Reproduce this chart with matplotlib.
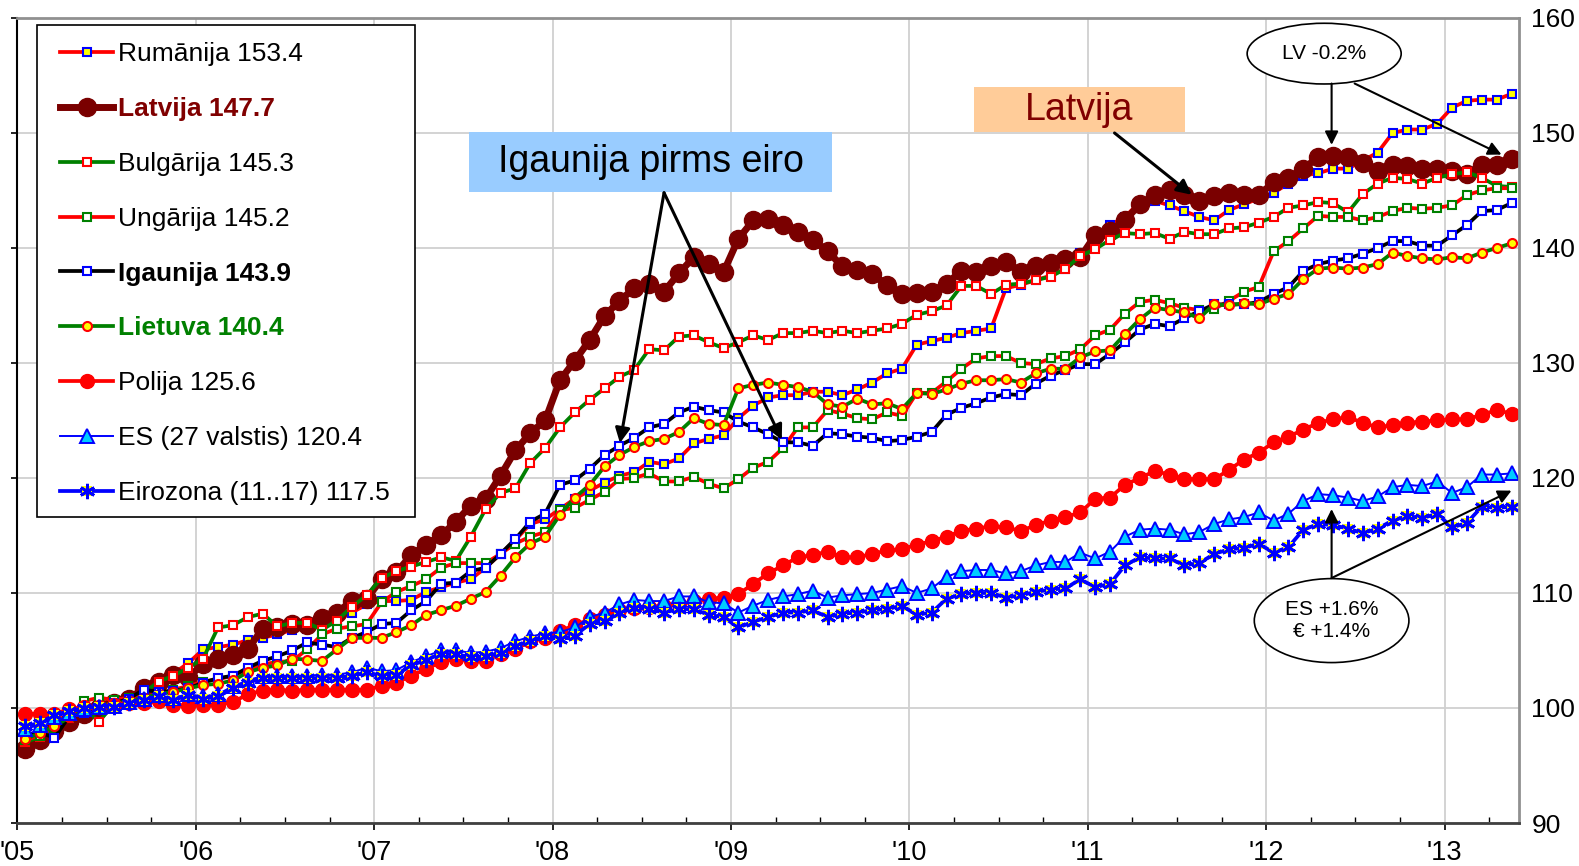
import matplotlib
matplotlib.use('Agg')
import matplotlib.pyplot as plt
import numpy as np
from matplotlib.patches import Ellipse, Rectangle

plt.rcParams['font.family'] = ['Liberation Sans', 'DejaVu Sans']

# monthly index values, Jan 2005 .. May 2013
year_labels = ["'05", "'06", "'07", "'08", "'09", "'10", "'11", "'12", "'13"]

ro = [97.3, 97.7, 98.3, 99.3, 99.8, 100.2, 100.6, 100.9, 101.7, 102.3, 103.0, 103.9,
      105.1, 105.3, 105.5, 105.9, 106.1, 106.4, 106.8, 106.9, 107.2, 107.6, 108.3, 109.0,
      109.3, 109.3, 109.4, 110.1, 110.5, 110.9, 111.2, 112.2, 113.4, 114.6, 116.0, 116.4,
      117.3, 118.2, 118.9, 119.6, 120.2, 120.5, 121.4, 121.2, 121.7, 123.0, 123.4, 123.7,
      125.2, 126.3, 127.0, 127.2, 127.2, 127.5, 127.5, 127.2, 127.7, 128.3, 129.1, 129.5,
      131.6, 131.9, 132.2, 132.6, 132.8, 133.0, 136.5, 136.8, 137.2, 137.6, 138.2, 139.6,
      140.2, 142.0, 142.7, 144.0, 144.1, 143.7, 143.2, 142.7, 142.4, 143.3, 143.8, 144.3,
      144.8, 145.6, 146.3, 146.5, 146.9, 146.9, 147.6, 148.3, 150.0, 150.3, 150.3, 150.8,
      152.2, 152.8, 152.9, 152.9, 153.4]
lv = [96.4, 97.2, 98.0, 98.8, 99.5, 100.0, 100.4, 100.8, 101.7, 102.3, 102.9, 102.7,
      103.8, 104.3, 104.6, 105.1, 106.9, 107.0, 107.3, 107.2, 107.8, 108.3, 109.3, 109.5,
      111.2, 111.8, 113.3, 114.2, 115.0, 116.2, 117.6, 118.2, 120.2, 122.4, 123.9, 125.0,
      128.5, 130.2, 132.0, 134.1, 135.4, 136.5, 136.9, 136.2, 137.8, 139.2, 138.6, 137.9,
      140.8, 142.4, 142.5, 142.0, 141.4, 140.7, 139.7, 138.4, 138.1, 137.7, 136.8, 136.0,
      136.1, 136.2, 136.9, 138.0, 137.9, 138.4, 138.8, 137.9, 138.4, 138.7, 139.0, 139.2,
      141.1, 141.5, 142.4, 143.8, 144.6, 145.0, 144.6, 144.1, 144.5, 144.8, 144.6, 144.6,
      145.7, 146.1, 146.9, 147.9, 148.0, 147.9, 147.4, 146.7, 147.2, 147.1, 146.9, 146.9,
      146.7, 146.4, 147.2, 147.2, 147.7]
bg = [97.0, 97.5, 98.3, 99.1, 100.0, 98.8, 100.4, 100.8, 101.3, 102.3, 102.8, 103.5,
      104.3, 107.0, 107.2, 107.9, 108.2, 107.1, 107.4, 107.4, 106.8, 107.6, 108.8, 109.8,
      111.3, 111.9, 112.3, 112.7, 113.1, 112.8, 114.9, 117.3, 118.7, 119.1, 121.3, 122.6,
      124.4, 125.7, 126.8, 127.8, 128.8, 129.4, 131.2, 131.1, 132.3, 132.4, 131.8, 131.3,
      131.8, 132.4, 132.0, 132.6, 132.6, 132.8, 132.6, 132.8, 132.6, 132.8, 133.0, 133.4,
      134.2, 134.5, 135.0, 136.7, 136.7, 136.0, 136.8, 136.9, 137.2, 137.5, 138.2, 139.3,
      139.9, 140.7, 141.3, 141.2, 141.3, 140.8, 141.4, 141.2, 141.2, 141.7, 141.8, 142.2,
      142.7, 143.5, 143.7, 144.0, 143.9, 143.1, 144.7, 145.6, 146.1, 146.0, 145.6, 146.1,
      146.4, 146.6, 146.1, 145.4, 145.3]
hu = [97.2, 97.6, 98.3, 99.2, 100.6, 100.9, 100.7, 100.9, 101.0, 101.2, 101.6, 101.9,
      102.3, 102.5, 102.8, 103.3, 103.8, 104.0, 104.1, 105.1, 106.4, 106.9, 107.1, 107.3,
      109.2, 110.1, 110.6, 111.2, 112.2, 112.6, 112.6, 112.6, 113.4, 114.3, 114.9, 115.3,
      117.2, 117.4, 118.1, 118.8, 119.9, 120.0, 120.4, 119.7, 119.7, 120.1, 119.5, 119.1,
      119.9, 120.9, 121.4, 122.6, 124.4, 124.4, 125.9, 125.6, 125.2, 125.1, 125.7, 125.4,
      127.4, 127.4, 128.4, 129.5, 130.4, 130.6, 130.6, 130.0, 129.9, 130.4, 130.6, 131.2,
      132.4, 132.9, 134.3, 135.3, 135.5, 135.2, 134.8, 134.6, 134.7, 135.4, 136.2, 136.6,
      139.7, 140.6, 141.7, 142.8, 142.7, 142.7, 142.4, 142.7, 143.2, 143.5, 143.4, 143.5,
      143.7, 144.6, 145.0, 145.2, 145.2]
ee = [97.6, 97.9, 97.4, 99.3, 99.6, 100.0, 100.4, 100.8, 101.6, 101.4, 101.5, 101.7,
      102.2, 102.6, 102.8, 103.5, 104.1, 104.5, 105.0, 105.7, 105.5, 105.3, 106.1, 106.6,
      107.3, 107.4, 108.5, 109.3, 110.8, 110.9, 111.9, 112.2, 113.4, 114.7, 116.2, 116.9,
      119.4, 119.8, 120.8, 122.0, 122.8, 123.5, 124.4, 124.7, 125.7, 126.2, 125.9, 125.7,
      124.9, 124.4, 123.8, 123.1, 123.1, 122.8, 123.9, 123.8, 123.6, 123.5, 123.2, 123.3,
      123.6, 124.0, 125.5, 126.1, 126.5, 127.0, 127.3, 127.2, 128.2, 128.9, 129.4, 129.9,
      129.9, 130.8, 131.8, 132.9, 133.4, 133.2, 133.9, 134.5, 135.1, 135.1, 135.1, 135.3,
      136.0, 136.6, 138.0, 138.6, 138.9, 139.1, 139.5, 140.0, 140.6, 140.6, 140.2, 140.2,
      141.1, 142.0, 143.2, 143.3, 143.9]
lt = [97.3, 97.8, 98.4, 99.2, 99.8, 100.2, 100.4, 100.6, 100.9, 101.2, 101.4, 101.7,
      102.0, 102.1, 102.4, 103.1, 103.5, 103.7, 104.3, 104.2, 104.1, 105.1, 106.1, 106.1,
      106.1, 106.6, 107.2, 108.1, 108.5, 108.9, 109.5, 110.1, 111.5, 113.1, 114.3, 114.9,
      116.8, 118.3, 119.4, 121.0, 122.0, 122.7, 123.2, 123.4, 124.0, 125.2, 124.7, 124.6,
      127.8, 128.1, 128.3, 128.1, 127.9, 127.5, 126.4, 126.2, 126.9, 126.4, 126.5, 126.0,
      127.4, 127.3, 127.7, 128.2, 128.5, 128.5, 128.6, 128.3, 129.1, 129.5, 129.5, 130.5,
      131.0, 131.1, 132.5, 133.8, 134.8, 134.6, 134.4, 133.9, 135.1, 135.0, 135.2, 135.1,
      135.6, 136.0, 137.3, 138.2, 138.3, 138.2, 138.3, 138.6, 139.6, 139.3, 139.1, 139.0,
      139.2, 139.1, 139.6, 140.0, 140.4]
pl = [99.5, 99.5, 99.5, 99.9, 100.1, 100.1, 100.3, 100.4, 100.4, 100.6, 100.3, 100.2,
      100.3, 100.3, 100.5, 101.2, 101.5, 101.6, 101.5, 101.6, 101.6, 101.6, 101.6, 101.6,
      101.9, 102.2, 102.8, 103.4, 104.0, 104.3, 104.1, 104.1, 104.7, 105.1, 105.8, 106.1,
      106.7, 107.2, 107.7, 108.1, 108.5, 108.7, 108.8, 108.9, 109.0, 109.3, 109.5, 109.6,
      109.9, 110.8, 111.7, 112.4, 113.1, 113.3, 113.6, 113.1, 113.1, 113.4, 113.7, 113.8,
      114.2, 114.5, 114.9, 115.4, 115.6, 115.8, 115.7, 115.4, 115.9, 116.3, 116.6, 117.0,
      118.2, 118.3, 119.4, 120.0, 120.6, 120.3, 119.9, 119.9, 119.9, 120.7, 121.6, 122.2,
      123.1, 123.6, 124.2, 124.8, 125.1, 125.3, 124.8, 124.4, 124.6, 124.8, 124.9, 125.0,
      125.1, 125.1, 125.5, 125.9, 125.6]
es = [98.2, 98.5, 99.2, 99.6, 99.9, 100.1, 100.2, 100.5, 100.8, 101.1, 100.9, 101.2,
      101.0, 101.2, 101.9, 102.4, 102.8, 102.8, 102.8, 102.8, 102.9, 102.9, 103.1, 103.5,
      103.2, 103.3, 104.0, 104.5, 105.0, 105.0, 104.8, 104.9, 105.2, 105.8, 106.2, 106.5,
      106.6, 107.0, 107.9, 108.3, 109.0, 109.4, 109.3, 109.3, 109.7, 109.7, 109.2, 109.1,
      108.3, 108.9, 109.4, 109.7, 109.9, 110.2, 109.6, 109.8, 109.9, 110.0, 110.3, 110.6,
      110.0, 110.4, 111.4, 111.9, 112.0, 112.0, 111.7, 111.9, 112.4, 112.7, 112.7, 113.5,
      113.0, 113.6, 114.9, 115.5, 115.6, 115.5, 115.1, 115.3, 116.0, 116.4, 116.6, 117.0,
      116.3, 116.9, 118.0, 118.6, 118.5, 118.3, 118.0, 118.4, 119.2, 119.4, 119.3, 119.7,
      118.7, 119.2, 120.3, 120.3, 120.4]
ez = [98.4, 98.7, 99.4, 99.7, 100.0, 100.1, 100.1, 100.4, 100.7, 101.0, 100.7, 101.1,
      100.8, 101.0, 101.7, 102.2, 102.6, 102.6, 102.6, 102.6, 102.6, 102.6, 102.8, 103.1,
      102.8, 102.9, 103.7, 104.2, 104.7, 104.7, 104.4, 104.5, 104.8, 105.4, 105.8, 106.3,
      106.0, 106.3, 107.3, 107.6, 108.3, 108.7, 108.6, 108.3, 108.6, 108.6, 108.1, 107.9,
      107.0, 107.5, 107.9, 108.3, 108.3, 108.5, 107.9, 108.2, 108.3, 108.5, 108.6, 108.9,
      108.1, 108.3, 109.5, 109.9, 110.0, 110.0, 109.6, 109.8, 110.1, 110.3, 110.4, 111.2,
      110.5, 110.8, 112.4, 113.1, 113.0, 113.0, 112.4, 112.6, 113.4, 113.8, 113.9, 114.3,
      113.5, 114.0, 115.5, 116.0, 115.9, 115.6, 115.2, 115.6, 116.3, 116.7, 116.5, 116.9,
      115.7, 116.1, 117.5, 117.4, 117.5]

months = np.arange(len(lv)) + 0.5

fig = plt.figure(figsize=(15.79, 8.66), dpi=100)
ax = fig.add_axes([0.01096, 0.04965, 0.951, 0.9296])

red = '#FF0000'
green = '#008000'
maroon = '#7A0000'
sq = dict(marker='s', ms=6, mew=1.5)
lw = 2.7

h_ro, = ax.plot(months, ro, color=red, lw=lw, mfc='yellow', mec='blue', **sq)
h_lv, = ax.plot(months, lv, color=maroon, lw=5, marker='o', ms=13, mfc=maroon, mec=maroon)
h_bg, = ax.plot(months, bg, color=green, lw=lw, mfc='white', mec=red, **sq)
h_hu, = ax.plot(months, hu, color=red, lw=lw, mfc='white', mec=green, **sq)
h_ee, = ax.plot(months, ee, color='black', lw=lw, mfc='white', mec='blue', **sq)
h_lt, = ax.plot(months, lt, color=green, lw=lw, marker='o', ms=6.5, mfc='yellow', mec=red, mew=1.5)
h_pl, = ax.plot(months, pl, color=red, lw=lw, marker='o', ms=10, mfc=red, mec=red)
h_es, = ax.plot(months, es, color='blue', lw=1.4, marker='^', ms=9.5, mfc='#00CCFF', mec='blue', mew=1.4)
h_ez1, = ax.plot(months, ez, color='blue', lw=lw, marker='s', ms=7.5, mfc='yellow', mec='yellow', mew=0)
h_ez2, = ax.plot(months, ez, ls='none', marker=(6, 2, 0), ms=11, mec='blue', mew=2)

ax.set_xlim(0, 101)
ax.set_ylim(90, 160)
ax.set_xticks(np.arange(0, 97, 12))
ax.set_xticklabels(year_labels, fontsize=19.5)
ax.set_xticks([m for m in range(3, 101, 3) if m % 12], minor=True)
ax.set_yticks(np.arange(90, 161, 10))
ax.tick_params(axis='x', which='major', direction='out', length=5, width=1.2, pad=7)
ax.tick_params(axis='x', which='minor', direction='in', length=4, width=1.0)
ax.tick_params(axis='y', left=True, right=False, labelleft=False, labelright=True,
               direction='out', length=4, width=1.2, pad=5, labelsize=19)

ax.grid(True, which='major', color='#D0D0D0', lw=1.3)
ax.set_axisbelow(True)
ax.spines['left'].set_color('black')
ax.spines['left'].set_linewidth(1.5)
ax.spines['bottom'].set_color('#404040')
ax.spines['bottom'].set_linewidth(2)
for s in ('top', 'right'):
    ax.spines[s].set_color('#909090')
    ax.spines[s].set_linewidth(2)

# legend with hand-drawn frame
ax.add_patch(Rectangle((0.01332, 0.3801), 0.2515, 0.611, transform=ax.transAxes,
                       facecolor='white', edgecolor='black', lw=1.2, zorder=6))
labels = ['Rumānija 153.4', 'Latvija 147.7', 'Bulgārija 145.3', 'Ungārija 145.2',
          'Igaunija 143.9', 'Lietuva 140.4', 'Polija 125.6', 'ES (27 valstis) 120.4',
          'Eirozona (11..17) 117.5']
handles = [h_ro, h_lv, h_bg, h_hu, h_ee, h_lt, h_pl, h_es, (h_ez1, h_ez2)]
leg = ax.legend(handles, labels, loc='upper left', bbox_to_anchor=(0.0287, 0.970),
                frameon=False, fontsize=19, handlelength=1.98, handletextpad=0.19,
                labelspacing=1.17, borderpad=0, borderaxespad=0, numpoints=1)
leg.set_zorder(7)
txt = leg.get_texts()
txt[1].set_color('#800000'); txt[1].set_fontweight('bold')
txt[4].set_fontweight('bold')
txt[5].set_color(green); txt[5].set_fontweight('bold')

# annotation boxes
ax.add_patch(Rectangle((30.35, 144.87), 24.42, 5.22, facecolor='#99CCFF', edgecolor='none', zorder=5))
ax.text(42.6, 147.45, 'Igaunija pirms eiro', fontsize=27, ha='center', va='center', zorder=6)
ax.add_patch(Rectangle((64.33, 150.09), 14.2, 3.94, facecolor='#FFCC99', edgecolor='none', zorder=5))
ax.text(71.4, 152.0, 'Latvija', fontsize=27, color='#800000', ha='center', va='center', zorder=6)

big = dict(arrowstyle='-|>', color='black', lw=2.2, mutation_scale=22, shrinkA=0)
ax.annotate('', xy=(40.5, ee[40]), xytext=(43.5, 144.8), arrowprops=dict(big, shrinkB=2), zorder=8)
ax.annotate('', xy=(51.5, ee[51]), xytext=(43.5, 144.8), arrowprops=dict(big, shrinkB=2), zorder=8)
ax.annotate('', xy=(79.5, lv[79]), xytext=(73.8, 150.0), arrowprops=dict(big, shrinkB=7), zorder=8)

# ellipses
ax.add_patch(Ellipse((87.9, 156.9), 10.36, 5.28, facecolor='white', edgecolor='black', lw=1.2, zorder=6))
ax.text(87.9, 156.9, 'LV -0.2%', fontsize=15, ha='center', va='center', zorder=7)
ax.add_patch(Ellipse((88.4, 107.6), 10.4, 7.3, facecolor='white', edgecolor='black', lw=1.2, zorder=6))
ax.text(88.4, 107.6, 'ES +1.6%\n€ +1.4%', fontsize=15, ha='center', va='center',
        linespacing=1.2, zorder=7)

thin = dict(arrowstyle='-|>', color='black', lw=1.5, mutation_scale=20, shrinkA=0)
ax.annotate('', xy=(88.4, lv[88]), xytext=(88.4, 154.3), arrowprops=dict(thin, shrinkB=8), zorder=8)
ax.annotate('', xy=(100.5, lv[100]), xytext=(89.95, 154.3), arrowprops=dict(thin, shrinkB=8), zorder=8)
ax.annotate('', xy=(88.4, 117.3), xytext=(88.4, 111.3), arrowprops=dict(thin, shrinkB=0), zorder=8)
ax.annotate('', xy=(100.5, 118.9), xytext=(88.4, 111.3), arrowprops=dict(thin, shrinkB=0), zorder=8)

fig.savefig('out.png', dpi=100)
